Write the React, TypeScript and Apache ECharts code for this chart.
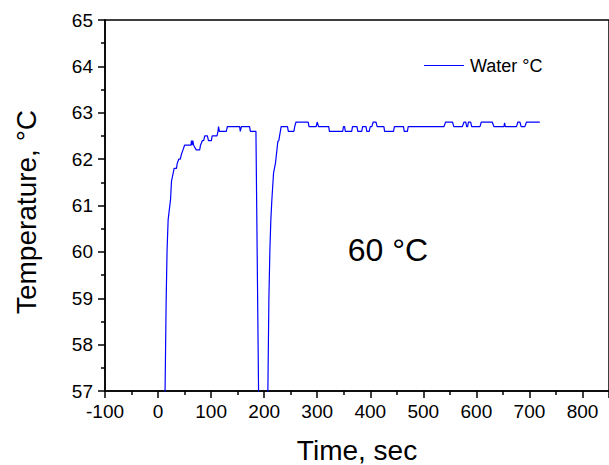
import React, { useEffect, useRef } from "react";
import * as echarts from "echarts";

const timeSec = [
  13, 15.3, 17, 19, 22, 23.5, 25.3, 30.3, 34.7, 36, 39, 42, 44, 47, 50, 60, 62, 63, 64, 65.5, 67, 68, 72, 78.5, 80,
  83.6, 86, 88, 93, 95, 100.5, 102, 111, 113, 114, 115.5, 128.7, 130.6, 153.8, 155, 157, 172.5, 174, 184.5, 190,
  198, 205, 207, 208.9, 210.8, 212.6, 214.5, 217.7, 221.4, 225.8, 227.6, 232, 244, 245.5, 256, 257.6, 260, 283,
  284.5, 298, 300, 302.5, 321.7, 323, 348, 349.5, 351.6, 353, 365, 366.5, 375, 376.5, 384, 385.5, 392, 393.5, 398,
  400, 403, 405.6, 410.7, 413, 425.7, 427, 443.8, 445.5, 462.6, 464, 470, 471.5, 539, 542, 555, 557.5, 573.6,
  576.7, 580, 581.7, 583.6, 585, 589.3, 591.2, 606.8, 609.3, 630, 633, 652, 653.2, 654.5, 675.7, 678.2, 682, 684.4,
  691.4, 694.5, 719.5,
];

const waterTemp = [
  56.8, 58.97, 60.04, 60.69, 60.98, 61.12, 61.52, 61.8, 61.8, 61.9, 62.0, 62.0, 62.1, 62.2, 62.3, 62.3, 62.3, 62.4,
  62.3, 62.4, 62.3, 62.3, 62.2, 62.2, 62.3, 62.4, 62.4, 62.5, 62.5, 62.4, 62.4, 62.5, 62.5, 62.6, 62.7, 62.6, 62.6,
  62.7, 62.7, 62.6, 62.7, 62.7, 62.6, 62.6, 56.4, 55.8, 55.8, 57.0, 58.97, 60.04, 60.69, 61.12, 61.7, 61.92, 62.38,
  62.4, 62.7, 62.7, 62.6, 62.6, 62.7, 62.8, 62.8, 62.7, 62.7, 62.8, 62.7, 62.7, 62.6, 62.6, 62.7, 62.7, 62.6, 62.6,
  62.7, 62.7, 62.6, 62.6, 62.7, 62.7, 62.6, 62.6, 62.7, 62.7, 62.8, 62.8, 62.7, 62.7, 62.6, 62.6, 62.7, 62.7, 62.6,
  62.6, 62.7, 62.7, 62.8, 62.8, 62.7, 62.7, 62.8, 62.8, 62.7, 62.7, 62.8, 62.8, 62.7, 62.7, 62.8, 62.8, 62.7, 62.7,
  62.78, 62.7, 62.7, 62.8, 62.8, 62.7, 62.7, 62.8, 62.8,
];

const xTickLabels = ["-100", "0", "100", "200", "300", "400", "500", "600", "700", "800"];
const seriesName = "Water °C";
const xTitle = "Time, sec";
const yTitle = "Temperature, °C";
const annotation = "60 °C";

const FONT = "'Liberation Sans', Arial, sans-serif";

export default function App() {
  const ref = useRef<HTMLDivElement>(null);
  useEffect(() => {
    if (!ref.current) return;
    const chart = echarts.init(ref.current, undefined, { renderer: "svg" });
    const data = timeSec.map((t, i) => [t, waterTemp[i]]);
    chart.setOption({
      animation: false,
      grid: {
        left: 105,
        right: 0,
        top: 20,
        bottom: 74,
        show: true,
        borderColor: "#000",
        borderWidth: 1.5,
        backgroundColor: "transparent",
      },
      xAxis: [
        {
          type: "value",
          min: -100,
          max: 850,
          interval: 100,
          position: "bottom",
          splitLine: { show: false },
          axisLine: { show: true, onZero: false, lineStyle: { color: "#000", width: 1.5 } },
          axisTick: { show: true, inside: false, length: 7, lineStyle: { color: "#000", width: 1.5 } },
          minorTick: { show: true, splitNumber: 2, length: 4, lineStyle: { color: "#000", width: 1.5 } },
          axisLabel: {
            show: true,
            margin: 11,
            fontFamily: FONT,
            fontSize: 19,
            color: "#000",
            showMaxLabel: false,
            formatter: (v: number) => (xTickLabels.includes(String(v)) ? String(v) : ""),
          },
        },
      ],
      yAxis: [
        {
          type: "value",
          min: 57,
          max: 65,
          interval: 1,
          splitLine: { show: false },
          axisLine: { show: true, onZero: false, lineStyle: { color: "#000", width: 1.5 } },
          axisTick: { show: true, inside: false, length: 7, lineStyle: { color: "#000", width: 1.5 } },
          minorTick: { show: true, splitNumber: 2, length: 4, lineStyle: { color: "#000", width: 1.5 } },
          axisLabel: { margin: 12, fontFamily: FONT, fontSize: 19, color: "#000" },
        },
      ],
      series: [
        {
          name: seriesName,
          type: "line",
          data,
          symbol: "none",
          lineStyle: { color: "#0000ff", width: 1.2 },
        },
      ],
      graphic: [
        {
          type: "line",
          shape: { x1: 424, y1: 65.5, x2: 464, y2: 65.5 },
          style: { stroke: "#0000ff", lineWidth: 1.2 },
        },
        {
          type: "text",
          x: 470,
          y: 66,
          style: { text: seriesName, font: `18px ${FONT}`, fill: "#000", align: "left", verticalAlign: "middle" },
        },
        {
          type: "text",
          x: 388,
          y: 250,
          style: { text: annotation, font: `32px ${FONT}`, fill: "#000", align: "center", verticalAlign: "middle" },
        },
        {
          type: "text",
          x: 357,
          y: 450,
          style: {
            text: xTitle,
            font: `28px ${FONT}`,
            lineHeight: 28,
            fill: "#000",
            align: "center",
            verticalAlign: "middle",
          },
        },
        {
          type: "text",
          x: 26,
          y: 212,
          rotation: Math.PI / 2,
          style: { text: yTitle, font: `28px ${FONT}`, fill: "#000", align: "center", verticalAlign: "middle" },
        },
      ],
    });
    return () => chart.dispose();
  }, []);
  return <div ref={ref} style={{ position: "fixed", left: 0, top: 0, width: 609, height: 465, background: "#fff" }} />;
}
